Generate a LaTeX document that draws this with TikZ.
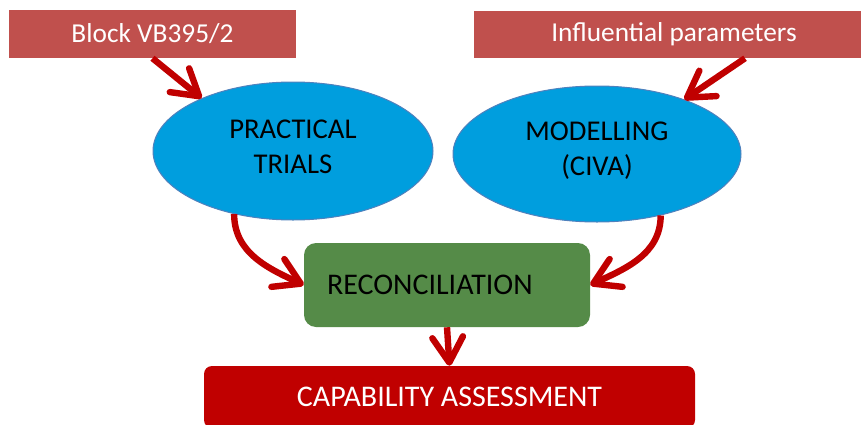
\documentclass[tikz,border=0pt]{standalone}
\usepackage{fontspec}
\setmainfont{Carlito}
\usetikzlibrary{arrows.meta,shapes.geometric,calc}
\definecolor{boxred}{RGB}{192,80,77}
\definecolor{ellblue}{RGB}{0,158,222}
\definecolor{ellborder}{RGB}{79,129,189}
\definecolor{recgreen}{RGB}{85,139,72}
\definecolor{capred}{RGB}{192,0,0}
\begin{document}
\begin{tikzpicture}[x=0.75pt,y=-0.75pt,
  topbox/.style={rectangle, fill=boxred, text=white, inner sep=0pt, font=\fontsize{20.5pt}{24pt}\selectfont},
  ell/.style={ellipse, fill=ellblue, draw=ellborder, line width=0.75pt, inner sep=0pt},
  elltext/.style={align=center, font=\fontsize{21.5pt}{26.5pt}\selectfont, inner sep=0pt},
  conn/.style={draw=capred, line width=4.8pt, -{Straight Barb[length=19pt,width=23pt,round]}}]
\useasboundingbox (0,0) rectangle (861,425);
\node[topbox, minimum width=215.25pt, minimum height=36pt] (block) at (152.5,34) {Block VB395/2};
\node[topbox, minimum width=300pt, minimum height=35.25pt] (infl) at (674,34.5) {Influential parameters};
\node[ell, minimum width=210pt, minimum height=103.5pt] (e1) at (293,151) {};
\node[elltext] (e1t) at (293,147) {PRACTICAL\\TRIALS};
\node[ell, minimum width=216pt, minimum height=102pt] (e2) at (597,154) {};
\node[elltext] (e2t) at (597,151) {MODELLING\\(CIVA)};
\node[rectangle, rounded corners=9pt, fill=recgreen, minimum width=214.5pt, minimum height=63pt,
  text width=180pt, align=left, inner xsep=17.25pt, inner ysep=0pt,
  font=\fontsize{22.5pt}{27pt}\selectfont] (rec) at (447,285) {RECONCILIATION};
\node[rectangle, rounded corners=6pt, fill=capred, text=white, minimum width=368.25pt, minimum height=46.5pt,
  inner sep=0pt, font=\fontsize{22.5pt}{27pt}\selectfont] (cap) at (449.5,397) {CAPABILITY ASSESSMENT};
\draw[conn] (block.south) -- (e1.150);
\draw[conn] ($(infl.south)+(71,0)$) -- (e2.32);
\draw[conn] (e1.227) to[out=-90,in=155] (rec.west);
\draw[conn] (e2.-44) to[out=-90,in=25] (rec.east);
\draw[conn] (rec.south) -- (cap.north);
\end{tikzpicture}
\end{document}
